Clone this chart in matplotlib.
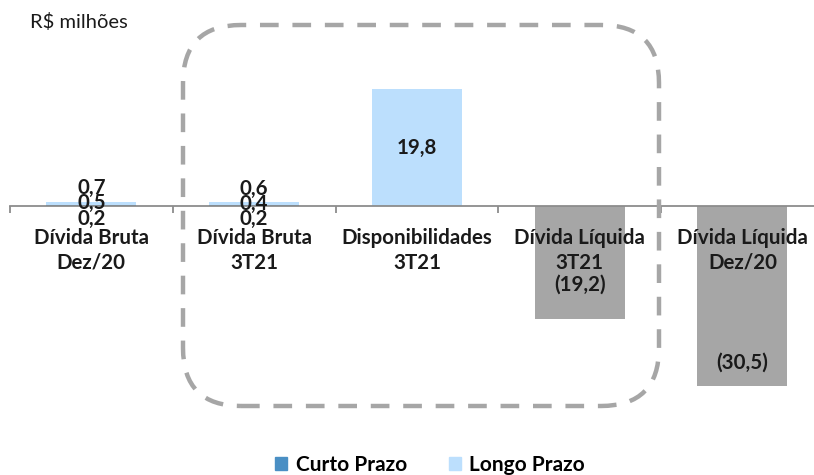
import numpy as np
import matplotlib
matplotlib.use("Agg")
import matplotlib.pyplot as plt
from matplotlib.patches import FancyBboxPatch, Patch
from matplotlib.transforms import IdentityTransform

plt.rcParams['font.family'] = ['Lato', 'DejaVu Sans']

# data (R$ milhoes)
categories = ["Dívida Bruta\nDez/20", "Dívida Bruta\n3T21", "Disponibilidades\n3T21",
              "Dívida Líquida\n3T21", "Dívida Líquida\nDez/20"]
curto = [0.2, 0.2, 0.0, 0.0, 0.0]
longo = [0.5, 0.4, 19.8, 0.0, 0.0]
liquida = [0.0, 0.0, 0.0, -19.2, -30.5]

c_curto = '#4A8FC4'
c_longo = '#BCDFFD'
c_liq = '#A6A6A6'

def fmt(v):
    s = f"{abs(v):.1f}".replace('.', ',')
    return f"({s})" if v < 0 else s

fig = plt.figure(figsize=(8.14, 4.75), dpi=100)
W, H = 814, 475
# axes placed in pixels: zero line at y=206, 5.9 px per unit
left, right, top, bottom = 10, 823.75, 20, 430
ax = fig.add_axes([left / W, 1 - bottom / H, (right - left) / W, (bottom - top) / H])
scale = 5.9
ax.set_ylim(-(bottom - 206) / scale, (206 - top) / scale)
ax.set_xlim(-0.5, 4.5)

x = np.arange(len(categories))
w = 0.553
ax.bar(x, curto, w, color=c_curto, zorder=2)
ax.bar(x, longo, w, bottom=curto, color=c_longo, zorder=2)
ax.bar(x, liquida, w, color=c_liq, zorder=2)

for s in ['top', 'right', 'left']:
    ax.spines[s].set_visible(False)
ax.spines['bottom'].set_position(('data', 0))
ax.spines['bottom'].set_color('#8C8C8C')
ax.spines['bottom'].set_linewidth(1.3)
ax.set_yticks([])
ax.set_xticks([])
ax.set_xticks(np.arange(-0.5, 4.6, 1), minor=True)
ax.tick_params(axis='x', which='minor', length=5, width=1.3, color='#8C8C8C', direction='out')

fs = 14.8
lbl = dict(fontsize=fs, fontweight='bold', color='#1A1A1A', ha='center')
for i, name in enumerate(categories):
    ax.annotate(name, (i, 0), xytext=(0, -15.5), textcoords='offset points',
                va='top', linespacing=1.33, zorder=3, **lbl)

# data labels
for i in range(len(categories)):
    tot = curto[i] + longo[i]
    if curto[i] > 0:
        ax.annotate(fmt(tot), (i, tot), xytext=(0, 10), textcoords='offset points', va='center', zorder=4, **lbl)
        ax.annotate(fmt(longo[i]), (i, tot), xytext=(0, -1), textcoords='offset points', va='center', zorder=4, **lbl)
        ax.annotate(fmt(curto[i]), (i, tot), xytext=(0, -12), textcoords='offset points', va='center', zorder=4, **lbl)
    elif longo[i] > 0:
        ax.text(i, longo[i] / 2, fmt(longo[i]), va='center', zorder=4, **lbl)
neg_offsets = [25, 16.5]
for j, i in enumerate([3, 4]):
    ax.annotate(fmt(liquida[i]), (i, liquida[i]), xytext=(0, neg_offsets[j]),
                textcoords='offset points', va='center', zorder=4, **lbl)

# dashed rounded highlight box (pixel coords)
bx0, by0, bx1, by1 = 183, 25, 659, 406
box = FancyBboxPatch((bx0, H - by1), bx1 - bx0, by1 - by0,
                     boxstyle="round,pad=0,rounding_size=58",
                     transform=IdentityTransform(), fill=False,
                     edgecolor='#A6A6A6', linewidth=3.2, linestyle=(0, (4.2, 3.1)),
                     capstyle='butt', zorder=5)
fig.patches.append(box)

fig.text(30 / W, 1 - 22 / H, "R$ milhões", fontsize=14.5, color='#1A1A1A', va='center', ha='left')

handles = [Patch(color=c_curto, label='Curto Prazo'), Patch(color=c_longo, label='Longo Prazo')]
fig.legend(handles=handles, loc='center', bbox_to_anchor=(430 / W, 1 - 465 / H), ncol=2,
           frameon=False, prop={'weight': 'bold', 'size': 15}, handlelength=0.6,
           handleheight=0.6, handletextpad=0.4, columnspacing=2.0)

fig.savefig('out.png', dpi=100)
